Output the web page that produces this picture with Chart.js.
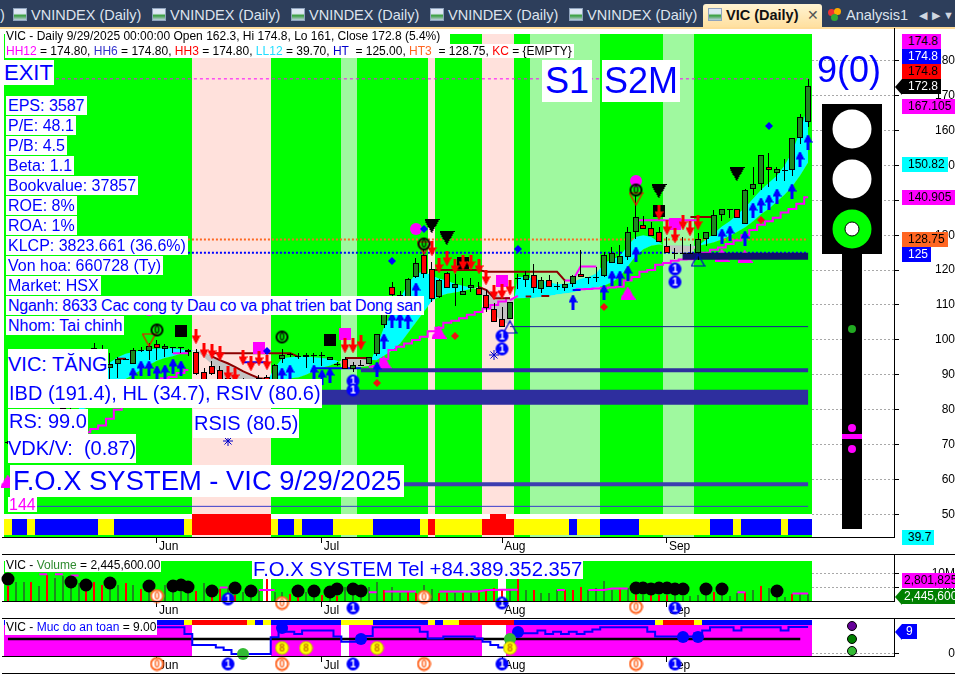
<!DOCTYPE html>
<html><head><meta charset="utf-8">
<style>
html,body{margin:0;padding:0;background:#fff;width:955px;height:674px;overflow:hidden;font-family:"Liberation Sans",Arial,sans-serif}
canvas{position:absolute;left:0;display:block}
.a{position:absolute;white-space:pre}
.lb{position:absolute;white-space:pre;background:#fff;color:#0000ff;font-family:"Liberation Sans",Arial,sans-serif}
.tag{position:absolute;white-space:pre;font-size:12px;line-height:15px;height:15px;box-sizing:border-box;padding-left:6px}
.ar{position:absolute;width:0;height:0;border-top:8px solid transparent;border-bottom:8px solid transparent}
.ln{position:absolute;background:#000;height:1px}
.tab{position:absolute;top:6px;font-size:14.5px;line-height:18px;color:#dde4ee;white-space:pre}
.ic{position:absolute;top:8px;width:14px;height:13px;background:linear-gradient(#dfe8f5 40%,#3aa040 60%,#bcd);border:1px solid #8fa3bd;box-sizing:border-box}
</style></head><body>
<div style="position:absolute;left:0;top:0;width:955px;height:27px;background:#2d3e5b"></div>
<div style="position:absolute;left:0;top:27px;width:955px;height:2px;background:#ffdc9a"></div>
<canvas id="cMain" width="955" height="526" style="top:28px"></canvas>
<canvas id="cVol" width="955" height="64" style="top:554px"></canvas>
<canvas id="cSafe" width="955" height="55" style="top:618px"></canvas>
<div id="ov"></div>
<script src="https://cdn.jsdelivr.net/npm/chart.js@4"></script>
<script>
const categories=["May 5","May 6","May 7","May 8","May 9","May 12","May 13","May 14","May 15","May 16","May 19","May 20","May 21","May 22","May 23","May 26","May 27","May 28","May 29","Jun","Jun 3","Jun 4","Jun 5","Jun 6","Jun 9","Jun 10","Jun 11","Jun 12","Jun 13","Jun 16","Jun 17","Jun 18","Jun 19","Jun 20","Jun 23","Jun 24","Jun 25","Jun 26","Jun 27","Jun 30","Jul","Jul 2","Jul 3","Jul 4","Jul 7","Jul 8","Jul 9","Jul 10","Jul 11","Jul 14","Jul 15","Jul 16","Jul 17","Jul 18","Jul 21","Jul 22","Jul 23","Jul 24","Jul 25","Jul 28","Jul 29","Jul 30","Jul 31","Aug","Aug 4","Aug 5","Aug 6","Aug 7","Aug 8","Aug 11","Aug 12","Aug 13","Aug 14","Aug 15","Aug 18","Aug 19","Aug 20","Aug 21","Aug 22","Aug 25","Aug 26","Aug 27","Aug 28","Aug 29","Sep","Sep 4","Sep 5","Sep 8","Sep 9","Sep 10","Sep 11","Sep 12","Sep 15","Sep 16","Sep 17","Sep 18","Sep 19","Sep 22","Sep 23","Sep 24","Sep 25","Sep 26","Sep 29"];
const monthTicks=[19,40,63,84];
const priceTicks=[50,60,70,80,90,100,110,120,130,140,150,160,170,180];
const volumeTicks=[5,10];
const safetyTicks=[0];
const opens=[70.6,71,72.5,74.5,73.5,76.5,75,78.5,80.5,83.5,86.5,97.7,95,92,93.1,94.6,93.1,97.2,96.9,98.9,97.4,98,97.9,96.6,96.6,90.7,92.6,91.4,89,88,88,88,89.2,89.4,88,94.6,95.9,95.5,95.1,95.7,95.7,94.1,93,94.5,91.7,92.9,93,95.9,104.3,115.1,112.9,112.3,118,124.3,120.3,112.2,119.3,114.9,113,115,115,113,108.8,105.9,106.1,117.6,117.3,118.5,114.7,117.1,115.4,115,116,119,118.1,118.1,118.4,122.1,121.8,123.8,130.8,133,132.2,131,127,124.8,125,125,124.8,129,129.8,135.8,137.6,137.6,133.3,143.2,144.7,149.6,147.9,148.8,148.7,157.8,162.3];
const highs=[71,73,75,76,77,78,79,81,84,87,91,99,98.6,96.2,95.2,94.9,97.6,98.1,99,100,98.9,98.1,98,97.5,97.5,92,94,92.5,90,89,89,88.5,89.8,90,93,97.3,96.2,96.2,96.2,96.2,96.4,95.2,93.6,95,93.8,94.3,95,101.7,108.5,116.5,114,117.6,123.4,126,122.4,117.5,119.5,119,117.6,117.6,116.7,114.3,110.5,109.3,111,119,119.7,121.7,118,118.6,116.7,117,118.6,125.7,118.1,121,125.2,126.7,127.1,132.4,141.4,135.4,133.8,132.4,129.5,126.2,129.5,127.6,130.5,130.8,137.1,137.6,137.6,137.6,143.3,149.5,153,153.6,149.5,151.7,157.9,164.8,174.8];
const lows=[70.2,70.5,72,73,73,74,74.5,78,80,83,86,92,92,88.8,89,94.1,93,96.5,94.3,94.3,95.2,96.2,96.2,95.5,90,86,90,85,85,85,85,86,87,86,87,93.3,95,94.5,91.9,93.3,92.4,94.1,92.4,91.7,90.7,92.5,93,95.5,103.5,112.5,110,112,117.8,117.6,111,112,115,109.7,113,113.8,113,108.1,105.1,103.8,106.1,114.5,115.2,113.3,113.3,115.2,114.3,114.1,115.2,118.1,116,116.7,118,122.1,121.8,122.9,129,131.8,129.8,128.1,124.8,123.1,125,125,123,126.9,129.8,134,134.8,134.8,133.3,141.4,143,143.8,145.4,145.4,147.1,156.2,161];
const closes=[70.6,72.5,74.5,73.5,76.5,74.5,78.5,80.5,83.5,86.5,90.5,94,95.5,93.1,94.6,94.3,97.1,97.1,98.3,97.7,98.3,98,97.9,97.1,90.3,87,90.3,86,86,86,87,87,88.8,87,92.9,95.7,95.9,95.5,95.7,95.7,95.7,95.2,93,91.7,92.8,92.9,95,101.7,107.7,112.9,110.8,117.4,122,119,111.8,117.3,115,116,113.9,115.7,113,109.2,105.1,103.8,111,117.5,118.5,115,117.1,115.2,115.3,116,118.2,118.1,118,118,124.2,124.8,123.9,130.8,135.3,131.8,129.8,128.1,124.8,124.7,124.9,124.9,129,130.8,135.9,137.6,137.5,134.8,143,144.8,153,148.7,149,148.7,157.9,164,172.8];
const bandFast=[null,null,null,null,null,null,null,null,null,84,88,90,92,93.5,95,96,96.5,97,97.3,97.5,97.6,97.6,97.3,97,96.9,95,93,90,87,86,85,85.5,86.5,88,92,94.8,95,95.2,95.2,95,94.8,94.6,94,92,92,92.2,92.5,98,104,108,112,116,119,119.5,118.5,117.5,117,116,115.5,115,114.4,111,107.5,105,104.5,118,118,117.5,117,116.5,116,116,116.5,117.5,118,119,122,123,124,127,129.5,130,129.5,128,126.5,125,125,125.2,127,128.8,130.5,132.5,134,136,138,140.5,143,145,147,150,154,160,167.105];
const bandSlow=[null,null,null,null,null,null,null,null,null,79.5,80.5,82,84,85.5,87,88.8,90,91.5,92.8,94,94.8,95.3,96,96.6,97,96.5,95.3,94.2,93.3,92.2,91,90,89,88.8,88,88.5,89,89.2,90,91,92,92.6,93.5,94.8,94.8,94.5,94.3,94.2,95.5,97,99,102,105,108,111,112.5,113.2,113.6,114,114.6,115.2,114.6,113.5,112,111.9,111.9,112,112,112.3,112.6,113,113.3,113.6,114.2,114.5,115,115.5,116.5,118,121,124,126,127,127.3,127.2,127.1,127.1,127,127,127.4,128,128.8,129.8,131,132.3,134,136,137.6,139.6,141.6,144,147.2,150.82];
const supportLine=[null,null,null,null,null,null,null,null,null,null,73.5,74.5,75.5,77.4,80,82,84,85,86,87,89,89.4,90.5,91.4,null,null,null,null,null,null,null,null,null,null,null,null,null,null,null,null,null,null,null,null,null,null,92.3,92.5,94.5,97.1,98,99,100,100.9,102.5,103.5,104.9,105.5,106.2,107.2,108,109,110,111,112,null,null,null,null,null,null,null,114.3,114.5,114.6,114.7,114.8,115,115.2,117,118,119.5,120,121.5,122,122.7,123,123.1,124,125,125.8,126.5,127.5,128.5,130,131.5,133,134,135,136.5,137.5,139,140.905];
const resistanceLine=[[14,94.6],[15,94.6],[16,null],[26,96.2],[36,96.2],[37,95.2],[38,null],[43,94.8],[46,94.8],[47,null],[54,120],[60,120],[61,119.5],[70,119.5],[71,117],[72,null],[87,135.2],[90,135.2]];
const declineLine=[[26,95.3],[27,94.2],[28,93.3],[29,92.2],[30,91],[31,90],[32,89],[33,88.8],[34,null],[60,115.2],[61,114.3],[62,111.9],[64,111.9],[65,null],[66,112.4],[66.7,112.4],[67,null],[68,112.6],[69,112.6]];
const magentaSegments=[[21,96.2],[23,96.2],[24,null],[43,94.8],[44,94.8],[45,null],[64,111.4],[65,112.6],[66,null],[71,117],[72,117],[73,121],[75,121],[76,null],[80,134.3],[88,134.3]];
const blueSegments=[[30,93.6],[33,93.6],[34,null],[39,91.9],[45,91.9],[46,null],[72,114.3],[73,114.3]];
const levelValues=[174.8,128.75,125,91.3,83.6,58.6,52.3,103.8,124];
const levelStart=[0,0,0,45,40,50,3,64,86];
const upArrows=[[16,90],[17,92],[18,92],[19,90.5],[20,90.9],[21,92.5],[22,92],[35,90],[36,90.7],[39,90.9],[40,89.5],[41,90],[47,91.8],[48,99.7],[49,105.7],[50,105.7],[51,105.5],[52,114.2],[72,111],[76,113.7],[77,117.8],[78,117.8],[79,119.2],[80,124.7],[91,129.9],[92,130.7],[94,129.2],[95,137.1],[96,138.7],[97,139.5],[98,141.3],[100,142.8],[101,151.8],[102,156.6]];
const downArrows=[[24,101.1],[25,97],[26,96.8],[27,96.2],[28,90.5],[29,90],[30,95],[31,93.5],[32,94.8],[33,93.6],[43,98.5],[44,98.5],[45,99.4],[54,126.2],[55,121.5],[56,123.5],[57,121.1],[58,122.2],[59,122.2],[60,121.1],[61,118.1],[62,113.6],[63,113.9],[64,115.2],[83,136.7],[84,132.4],[85,130.1],[86,133.9],[87,132.1],[88,133.8]];
const blackTriangles=[[54,132.6],[56,129.3],[83,142.6],[93,147.6]];
const magentaTriangles=[[0,59.7],[48,93.8],[55,102.4],[79,113.5],[91,124.3],[94,123.9]];
const blackSquares=[[22,102.6],[41,100],[58,122],[83,137]];
const magentaSquares=[[32,97.7],[43,101.7],[63,116.9],[85,133.3]];
const magentaDots=[[18,108.6],[52,131.9],[80,145.5]];
const blueDiamonds=[[33,96.7],[49,122.6],[53,131.7],[65,126],[97,161.2]];
const redDiamonds=[[47,87.6],[57,101.1],[76,109.5],[96,134.3]];
const zeroRings=[[19,102.9],[35,100.9],[53,127.4],[80,142.9]];
const redOutlines=[[18,100],[53,126.3],[80,140.5]];
const blueOutlines=[[64,103.6],[88,122.8]];
const oneDiscs=[[44,88.3],[44,85.7],[63,101.2],[63,97.5],[85,120.3],[85,116.7]];
const flakes=[[28,70.9],[62,95.7]];
const backgroundRuns=[["g",24],["p",10],["g",9],["l",2],["g",9],["p",1],["g",6],["p",4],["g",2],["l",9],["g",8],["l",4],["g",15]];
const trendRuns=[["y",1],["b",2],["y",1],["b",8],["y",2],["b",9],["y",1],["r",10],["y",1],["b",2],["y",1],["b",4],["y",5],["b",6],["y",1],["r",1],["y",6],["r",4],["y",7],["b",1],["y",3],["b",5],["y",9],["b",3],["y",1],["b",5],["y",1],["b",3]];
const trendTall=[24,25,26,27,28,29,30,31,32,33,62,63];
const volumes=[5.5,7.2,7.2,6.9,5.5,9.6,8.4,9.4,8.4,6.5,6.3,6.9,5.9,6.5,5.8,6.5,5.9,4.3,5.9,4.1,5.9,5.3,3.3,4.1,3.7,6.5,3.5,4.3,4.7,2.2,3.5,2.8,4.1,8.1,3.5,3.5,2.6,1.6,3.5,4.1,2.2,3.5,1.9,5,3.5,4.1,5.3,6.9,4.1,5,3.1,3.5,2.8,5.9,4.3,2.8,2.8,3.1,2.8,2.8,4.1,4.1,4.7,4.1,4.3,8,4.1,4.1,2.8,2.8,4.1,4.1,4.1,5,4.1,4.7,7.4,4.1,4.3,4.7,2.8,2.1,2.2,2.2,2.2,2.2,1.9,1.9,2.2,2.8,3.5,2.8,1.9,3.1,3.5,4.1,5.5,4.7,4.1,1.6,2.45,2.45,2.4456];
const volumeColorRuns=[["r",1],["g",2],["r",1],["g",1],["r",1],["g",4],["r",3],["g",2],["r",1],["g",1],["r",1],["g",1],["r",1],["g",4],["r",1],["g",1],["r",2],["g",1],["r",1],["g",3],["r",1],["g",2],["r",2],["g",2],["r",1],["g",1],["r",1],["g",5],["r",1],["g",2],["r",2],["g",2],["r",2],["g",1],["r",1],["g",1],["r",4],["g",1],["r",1],["g",1],["r",1],["g",3],["r",3],["g",4],["r",1],["g",1],["r",1],["g",1],["r",3],["g",5],["r",1],["g",3],["r",1],["g",1],["r",1],["g",3]];
const volumeGaps=[33,63];
const volumeMarkers=[[0,8],[8,6.9],[10,6],[13,6.5],[18,5.4],[21,5.4],[22,5.8],[23,5],[26,3.6],[29,4.7],[31,3.6],[37,3.8],[39,3.6],[41,3.2],[42,4.3],[44,4.3],[45,3.6],[80,4.7],[81,4.7],[82,4.3],[83,4.7],[84,4.7],[85,4.3],[86,4.3],[89,4.3],[91,4.3],[98,3.6]];
const volumeMA=[[4,9.9],[5,9.9],[6,null],[6,9.9],[7,9.9],[8,null],[8,9.4],[9,9.4],[10,null],[27,5],[28,5],[29,null],[32,4.1],[34,4.1],[35,null],[46,3.2],[47,3.2],[48,null],[48,3.5],[49,3.5],[50,3.5],[52,3.5],[53,null],[55,3.5],[60,3.5],[61,4.1],[62,4.1],[63,4.2],[65,4.2],[66,null],[70,4.1],[71,4.1],[72,null],[74,4.1],[76,4.1],[77,4.6],[79,4.6],[80,null],[93,3.2],[94,3.2],[95,null],[100,2.8],[102,2.8]];
const volumeOrange=[[19,1.9],[35,-0.7],[53,1.5],[80,-2.2]];
const volumeBlue=[[28,0.7],[44,-2.6],[63,-0.7],[85,-2.6]];
const safety=[8.9,8.9,8.9,8.9,8.9,8.9,8.9,8.9,8.9,8.9,8.9,8.9,8.9,8.9,8.9,8.9,8.9,8.9,8.9,8.9,8.9,8.9,8.9,6.7,3,3,3,2.2,1.3,0,0,0,0,0,5.6,8.9,7.4,6.7,7.8,7.8,7.8,7.8,5.8,4.1,4.1,5.8,6,8.9,8.9,8.9,8.9,8.9,8.9,7.4,5.2,5.2,5.8,5.8,5.8,5.8,5.2,4.1,3,2.2,5,7.4,6.9,6.9,7.8,6.7,7.4,6.7,7.4,6.7,7.4,8.2,8.9,8.9,8.9,8.9,8.9,8.9,7.4,5.8,5.8,5.8,5.8,5.8,6.9,7.8,8.9,8.9,8.9,7.8,8.9,8.9,8.9,8.9,8.9,7.8,9,9,9];
const safetyRuns=[["m",24],["w",10],["m",9],["w",1],["m",17],["w",3],["m",39]];
const safetyBandRuns=[["b",23],["y",1],["r",7],["y",1],["b",1],["y",1],["b",9],["y",4],["b",7],["y",1],["b",1],["y",2],["r",7],["b",18],["y",1],["r",4],["y",1],["b",14]];
const safetyBlue=[[35,8.6],[45,4.9],[65,7.4],[86,5.7],[88,5.7]];
const safetyGreen=[[30,0],[64,5]];
const safetyEights=[[35,1.9],[38,1.9],[47,1.9],[64,1.9]];
const safetyOrange=[[19,-3.33],[35,-3.33],[53,-3.33],[80,-3.33]];
const safetyOnes=[[28,-3.33],[44,-3.33],[63,-3.33],[85,-3.33]];
const safetyLights=[9.33,5.1,0.9];
const lightWhite=[160.4,146.1];
const lightGreen=[131.8];
const lightSignals=[74.7,68.7];
const lightSignalGreen=[103.1];

const F='"Liberation Sans",Arial,sans-serif';
const expand=r=>r.flatMap(([c,n])=>Array(n).fill(c));
const idx=categories.map((_,i)=>i);
const pts=a=>a.map(([x,y])=>({x,y}));
const series=a=>a.map((y,x)=>({x,y}));
const LIGHT_X=107.6;
const C={g:"#00ff00",p:"#ffe1dc",l:"#9ff99f",y:"#ffff00",b:"#0000ff",r:"#ff0000",m:"#ff00ff",w:"#ffffff"};

function sprite(w,h,fn){const c=document.createElement("canvas");c.width=w;c.height=h;fn(c.getContext("2d"),w,h);return c;}
function arrow(color,up){return sprite(9,15,(x)=>{x.fillStyle=color;const rows=[1,3,3,5,5,7,7,9];rows.forEach((r,i)=>{const y=up?i:14-i;x.fillRect((9-r)/2,y,r,1);});if(up)x.fillRect(3,8,3,7);else x.fillRect(3,0,3,7);});}
function tri(color,up,w,h){return sprite(w,h,(x)=>{x.fillStyle=color;for(let i=0;i<h;i++){const r=Math.max(1,Math.round((i+1)/h*w));x.fillRect(Math.floor((w-r)/2),up?i:h-1-i,r,1);}});}
function triOutline(color,up,w,h){return sprite(w,h,(x)=>{x.strokeStyle=color;x.lineWidth=1.2;x.beginPath();if(up){x.moveTo(w/2,1);x.lineTo(w-1,h-1);x.lineTo(1,h-1);}else{x.moveTo(1,1);x.lineTo(w-1,1);x.lineTo(w/2,h-1);}x.closePath();x.stroke();});}
function disc(opts){const s=15;return sprite(s,s,(x)=>{const c=s/2;x.beginPath();x.arc(c,c,opts.r||6,0,7);if(opts.fill){x.fillStyle=opts.fill;x.fill();}if(opts.ring){x.lineWidth=opts.rw||2;x.strokeStyle=opts.ring;x.stroke();}x.fillStyle=opts.text;x.font="bold 10px "+F;x.textAlign="center";x.textBaseline="middle";x.fillText(opts.d,c,c+0.5);});}
const upBlue=arrow("#0000ff",true),downRed=arrow("#ff0000",false);
const triBlack=tri("#000",false,15,14),triMag=tri("#ff00ff",true,15,13);
const redOut=triOutline("#ff0000",false,15,14),blueOut=triOutline("#0000cc",true,15,14);
const ringZero=disc({ring:"#000",d:"0",text:"#000",r:5.5});
const discOne=disc({fill:"#0000ff",d:"1",text:"#fff",r:6.5});
const ringOrange=disc({fill:"#fff",ring:"#ff6622",d:"0",text:"#ff6622"});
const discEight=disc({fill:"#ffff00",ring:"#b8b800",rw:1,d:"8",text:"#c87800",r:6.5});

const stack=()=>{const l=[];l.add=d=>{l.push(d);return d;};l.done=()=>{l.forEach((d,i)=>d.order=l.length-i);return l;};return l;};
const bar=(data,bg,w,extra={})=>({type:"bar",data,backgroundColor:bg,barThickness:w,grouped:false,inflateAmount:0,borderWidth:0,borderSkipped:false,...extra});
const line=(data,color,w,extra={})=>({type:"line",data,borderColor:color,borderWidth:w,pointRadius:0,fill:false,tension:0,spanGaps:false,...extra});
const marks=(data,style,extra={})=>({type:"scatter",data:pts(data),pointStyle:style,pointRadius:14,pointHoverRadius:14,pointBorderWidth:0,pointBackgroundColor:"transparent",pointBorderColor:"transparent",clip:false,...extra});
const shape=(data,style,r,color,extra={})=>({type:"scatter",data:pts(data),pointStyle:style,pointRadius:r,pointHoverRadius:r,pointBackgroundColor:color,pointBorderColor:color,pointBorderWidth:0,clip:false,...extra});

const snapPlugin={id:"snap",beforeDatasetsDraw(ch){
  ch.getSortedVisibleDatasetMetas().forEach(m=>{
    if(m.type==="bar"){m.data.forEach(e=>{
      const w=Math.round(e.width);e.width=w;
      e.x=(w%2)?Math.floor(e.x)+0.5:Math.round(e.x);
      e.y=Math.round(e.y);e.base=Math.round(e.base);
      if(Math.abs(e.base-e.y)<1)e.base=e.y+1;
    });}
    else if(m.type==="scatter"){m.data.forEach(e=>{e.x=Math.round(e.x);e.y=Math.round(e.y);});}
  });
}};
const noPad=s=>{s.paddingTop=s.paddingBottom=s.paddingLeft=s.paddingRight=0;};

function baseOptions(yMin,yMax,yTicks,fmt,pad,axisH){return{
  responsive:false,animation:false,events:[],devicePixelRatio:1,
  layout:{autoPadding:false,padding:{left:4,right:0,top:0,bottom:0}},
  plugins:{legend:{display:false},tooltip:{enabled:false},title:{display:false}},
  scales:{
    x:{type:"linear",offset:false,min:-0.5,max:112.95,grid:{offset:false,drawOnChartArea:false,drawTicks:true,tickLength:6,tickColor:"#000",tickWidth:1},border:{display:false},
      afterBuildTicks:s=>{s.ticks=monthTicks.map(v=>({value:v}));},
      afterFit:s=>{s.height=axisH;noPad(s);},
      ticks:{autoSkip:false,maxRotation:0,minRotation:0,align:"start",labelOffset:2,padding:-4,color:"#000",font:{family:F,size:12},callback:v=>categories[v]}},
    y:{type:"linear",position:"right",min:yMin,max:yMax,
      grid:{color:"#a8a8a8",tickColor:"#000",tickLength:5,drawTicks:true,lineWidth:1},border:{display:true,color:"#000",dash:[2,2]},
      afterBuildTicks:s=>{s.ticks=yTicks.map(v=>({value:v}));},
      afterFit:s=>{s.width=61;noPad(s);},
      ticks:{crossAlign:"far",padding:pad,color:"#000",font:{family:F,size:12},callback:fmt}}
  }};}

const m=stack();
const TOP=187.65,BOT=43.52;
const bgCodes=expand(backgroundRuns);
m.add(bar(idx.map(i=>({x:i,y:[BOT,TOP]})),bgCodes.map(c=>C[c]),8));
m.add(line(pts([[levelStart[0],levelValues[0]],[102,levelValues[0]]]),"#ff00ff",1,{borderDash:[3,3]}));
m.add(line(pts([[levelStart[1],levelValues[1]],[102,levelValues[1]]]),"#ff6622",2,{borderDash:[2,2]}));
m.add(line(pts([[levelStart[2],levelValues[2]],[102,levelValues[2]]]),"#0000ff",2,{borderDash:[2,2]}));
const bandIndex=m.length;
m.add(line(series(bandFast),"transparent",0,{fill:{target:bandIndex+1,above:"#00ffff",below:"#c4c4c4"}}));
m.add(line(series(bandSlow),"transparent",0));
m.add(line(series(supportLine),"#ff00ff",2,{stepped:"middle"}));
m.add(line(pts(magentaSegments),"#ff00ff",2));
m.add(line(pts(blueSegments),"#0000ff",2));
m.add(marks(magentaTriangles,triMag));
m.add(line(pts([[levelStart[3],levelValues[3]],[102,levelValues[3]]]),"#2e2e9e",4));
m.add(line(pts([[levelStart[4],levelValues[4]],[102,levelValues[4]]]),"#2e2e9e",15));
m.add(line(pts([[levelStart[5],levelValues[5]],[102,levelValues[5]]]),"#3d3db0",4));
m.add(line(pts([[levelStart[6],levelValues[6]],[102,levelValues[6]]]),"#3a3acc",1));
m.add(line(pts([[levelStart[7],levelValues[7]],[102,levelValues[7]]]),"#1a1a99",1));
m.add(line(pts([[levelStart[8],levelValues[8]],[102,levelValues[8]]]),"#10106a",7));
m.add(line(pts(resistanceLine),"#8b0000",2));
m.add(line(pts(declineLine),"#8b0000",2));
m.add(shape(magentaSquares,"rect",8.5,"#ff00ff",{}));
m.add(shape(blackSquares,"rect",8.5,"#000",{}));
m.add(shape(magentaDots,"circle",6,"#ff00ff"));
m.add(bar(idx.map(i=>({x:i,y:[lows[i],highs[i]]})),"#000",1));
m.add(bar(idx.map(i=>({x:i,y:[Math.min(opens[i],closes[i]),Math.max(opens[i],closes[i])]})),idx.map(i=>closes[i]<opens[i]?"#ff0000":"#1e8a1e"),6,{borderColor:"#000",borderWidth:1}));
m.add(marks(upArrows,upBlue));
m.add(marks(downArrows,downRed));
m.add(marks(blackTriangles,triBlack));
m.add(marks(redOutlines,redOut));
m.add(marks(blueOutlines,blueOut));
m.add(shape(blueDiamonds,"rectRot",4,"#0000ff"));
m.add(shape(redDiamonds,"rectRot",4,"#ee1111"));
m.add(marks(zeroRings,ringZero));
m.add(marks(oneDiscs,discOne));
m.add({type:"scatter",data:pts(flakes),pointStyle:"star",pointRadius:5,pointBorderWidth:1,pointBorderColor:"#0000cc",pointBackgroundColor:"transparent",clip:false});
const trend=expand(trendRuns);
m.add(bar(idx.map(i=>({x:i,y:[44.1,50.1]})),"#ffffff",8));
m.add(bar(idx.map(i=>({x:i,y:[44.1,trendTall.includes(i)?50.1:48.7]})),trend.map(c=>C[c]),8));
m.add(bar([{x:LIGHT_X,y:[124.6,167.6]}],"#000",60));
m.add(bar([{x:LIGHT_X,y:[45.8,124.6]}],"#000",20));
m.add(shape(lightWhite.map(v=>[LIGHT_X,v]),"circle",19.5,"#fff"));
m.add(shape(lightGreen.map(v=>[LIGHT_X,v]),"circle",19.5,"#00ff00"));
m.add(shape(lightGreen.map(v=>[LIGHT_X,v]),"circle",7,"#fff",{pointBorderColor:"#000",pointBorderWidth:1}));
m.add(shape(lightSignalGreen.map(v=>[LIGHT_X,v]),"circle",4,"#22aa22"));
m.add(bar([{x:LIGHT_X,y:[71.5,72.9]}],"#ff00ff",20));
m.add(shape(lightSignals.map(v=>[LIGHT_X,v]),"circle",4,"#ff00ff"));
m.done();
new Chart(document.getElementById("cMain"),{type:"bar",data:{datasets:m},options:baseOptions(BOT,189.37,priceTicks,v=>String(v),32,17),plugins:[snapPlugin]});

const v=stack();
v.add(bar(idx.map(i=>({x:i,y:[0,14.8]})),idx.map(i=>volumeGaps.includes(i)?"#fff":C.g),8));
const vc=expand(volumeColorRuns);
v.add(bar(idx.map(i=>({x:i,y:[0,volumes[i]]})),vc.map(c=>c==="r"?"#ff0000":"#1e8a1e"),2));
v.add(line(pts(volumeMA),"#ff00ff",2));
v.add(shape(volumeMarkers,"circle",6.5,"#000"));
v.add(marks(volumeOrange,ringOrange));
v.add(marks(volumeBlue,discOne));
v.done();
new Chart(document.getElementById("cVol"),{type:"bar",data:{datasets:v},options:baseOptions(0,17.4,volumeTicks,x=>x===10?"10M":"5M",25,17),plugins:[snapPlugin]});

const s=stack();
const sc=expand(safetyRuns),sb=expand(safetyBandRuns);
s.add(bar(idx.map(i=>({x:i,y:[-0.67,9.67]})),sc.map(c=>C[c]),8));
s.add(bar(idx.map(i=>({x:i,y:[9.67,11.33]})),sb.map(c=>C[c]),8));
s.add(line(pts([[0,5],[101,5]]),"#000",2.5));
s.add(line(series(safety),"#0000ff",2,{stepped:"middle"}));
s.add(shape(safetyBlue,"circle",6,"#0000ff"));
s.add(shape(safetyGreen,"circle",6,"#33bb33"));
s.add(marks(safetyEights,discEight));
s.add(marks(safetyOrange,ringOrange));
s.add(marks(safetyOnes,discOne));
s.add(shape(safetyLights.slice(0,1).map(y=>[LIGHT_X,y]),"circle",4.5,"#660099",{pointBorderColor:"#000",pointBorderWidth:1}));
s.add(shape(safetyLights.slice(1,2).map(y=>[LIGHT_X,y]),"circle",4.5,"#008000",{pointBorderColor:"#000",pointBorderWidth:1}));
s.add(shape(safetyLights.slice(2,3).map(y=>[LIGHT_X,y]),"circle",4.5,"#33bb33",{pointBorderColor:"#000",pointBorderWidth:1}));
s.done();
new Chart(document.getElementById("cSafe"),{type:"bar",data:{datasets:s},options:baseOptions(-0.67,12,safetyTicks,x=>String(x),46,17),plugins:[snapPlugin]});

const ov=document.getElementById("ov");
function el(cls,css,html){const d=document.createElement("div");d.className=cls;d.style.cssText=css;d.innerHTML=html;ov.appendChild(d);return d;}
function box(t,x,y,h,fs,pad,extra=""){el("lb",`left:${x}px;top:${y}px;height:${h}px;line-height:${h}px;font-size:${fs}px;padding:0 ${pad}px;${extra}`,t);}
[["EPS: 3587",96],["P/E: 48.1",116],["P/B: 4.5",136],["Beta: 1.1",156],["Bookvalue: 37857",176],["ROE: 8%",196],["ROA: 1%",216],["KLCP: 3823.661 (36.6%)",236],["Von hoa: 660728 (Ty)",256],["Market: HSX",276],["Nganh: 8633 Cac cong ty Dau co va phat trien bat Dong san",296,"letter-spacing:-0.25px"],["Nhom: Tai chinh",316]].forEach(([t,y,e])=>box(t,6,y,19,16,2,e||""));
box("EXIT",3,60,25,22,1);
box("S1",542,60,42,36,3);
box("S2M",602,60,42,36,2);
el("a","left:817px;top:49px;font-size:36px;line-height:42px;color:#0000ff","9(0)");
box("VIC: TĂNG",8,349,30,20,0);
box("IBD (191.4), HL (34.7), RSIV (80.6)",8,379,29,20,1);
box("RS: 99.0",8,409,25,20,1);
box("RSIS (80.5)",193,409,29,20,1);
box("VDK/V:  (0.87)",8,434,29,20,0);
box("F.O.X SYSTEM - VIC 9/29/2025",10,465,32,27.4,3);
el("lb","left:8px;top:497px;height:15px;line-height:15px;font-size:16px;padding:0 1px;color:#ff00ff","144");
box("F.O.X SYSTEM Tel +84.389.352.357",252,559,20,20.3,1);
const col=(c,t)=>`<span style="color:${c}">${t}</span>`;
el("a","left:5px;top:34px;height:10px;width:445px;background:#fff","");
el("a","left:5px;top:44px;height:14px;width:569px;background:#fff","");
el("a","left:6px;top:29px;font-size:12px;line-height:15px;color:#000","VIC - Daily 9/29/2025 00:00:00 Open 162.3, Hi 174.8, Lo 161, Close 172.8 (5.4%)");
el("a","left:6px;top:44px;font-size:12px;line-height:15px;color:#000",col("#ff00ff","HH12")+" = 174.80, "+col("#3333cc","HH6")+" = 174.80, "+col("#ff0000","HH3")+" = 174.80, "+col("#22ddff","LL12")+" = 39.70, "+col("#0000cc","HT ")+" = 125.00, "+col("#ff6622","HT3 ")+" = 128.75, "+col("#ff0000","KC")+" = {EMPTY}");
el("a","left:5px;top:558px;height:14px;line-height:14px;font-size:12px;background:#fff;padding:0 1px;color:#000","VIC - "+col("#2e8b2e","Volume")+" = 2,445,600.00");
el("a","left:5px;top:620px;height:15px;line-height:15px;font-size:12px;background:#fff;padding:0 1px;color:#000","VIC - "+col("#0000ff","Muc do an toan")+" = 9.00");
[["174.8","#ff00ff","#000",34,39],["174.8","#0000ff","#fff",49,39],["174.8","#ff0000","#000",64,39],["172.8","#000","#fff",79,39],["167.105","#ff00ff","#000",99,53],["150.82","#00ffff","#000",157,46],["140.905","#ff00ff","#000",190,53],["128.75","#ff6622","#000",232,46],["125","#0000ff","#fff",247,29],["39.7","#00ffff","#000",530,32]].forEach(([t,bg,fg,y,w])=>el("tag",`left:902px;top:${y}px;width:${w}px;background:${bg};color:${fg}`,t));
el("ar","left:895px;top:78.5px;border-right:7px solid #000","");
el("tag","left:902px;top:573px;width:53px;background:#ff00ff;color:#000;padding-left:2px","2,801,825");
el("tag","left:902px;top:589px;width:53px;background:#008000;color:#fff;padding-left:2px","2,445,600");
el("ar","left:895px;top:588.5px;border-right:7px solid #008000","");
el("tag","left:902px;top:624px;width:15px;background:#0000ff;color:#fff;padding-left:4px","9");
el("ar","left:895px;top:623.5px;border-right:7px solid #0000ff","");
[[537,2,892],[554,2,953],[601,2,892],[618,2,953],[656,2,892],[673,2,953]].forEach(([y,x,w])=>el("ln",`left:${x}px;top:${y}px;width:${w}px`,""));
el("tab","left:0;color:#dde4ee",")");
[13,152,291,430,569].forEach(x=>{el("ic",`left:${x}px`,"");el("tab",`left:${x+18}px`,"VNINDEX (Daily)");});
el("a","left:703px;top:4px;width:119px;height:23px;background:linear-gradient(#fff3d2,#ffe0a0);border-radius:3px 3px 0 0","");
el("ic","left:708px","");
el("tab","left:726px;font-weight:bold;color:#111;font-size:14.5px","VIC (Daily)");
el("tab","left:807px;color:#555;font-size:14px","✕");
el("a","left:828px;top:9px;width:7px;height:7px;border-radius:50%;background:#e33","");
el("a","left:834px;top:8px;width:7px;height:7px;border-radius:50%;background:#fa0","");
el("a","left:831px;top:14px;width:7px;height:7px;border-radius:50%;background:#3a3","");
el("tab","left:846px","Analysis1");
el("tab","left:919px;font-size:11px;color:#cfd6e0","◀");
el("tab","left:932px;font-size:11px;color:#cfd6e0","▶");
el("tab","left:943px;font-size:11px;color:#cfd6e0","▼");
</script></body></html>
